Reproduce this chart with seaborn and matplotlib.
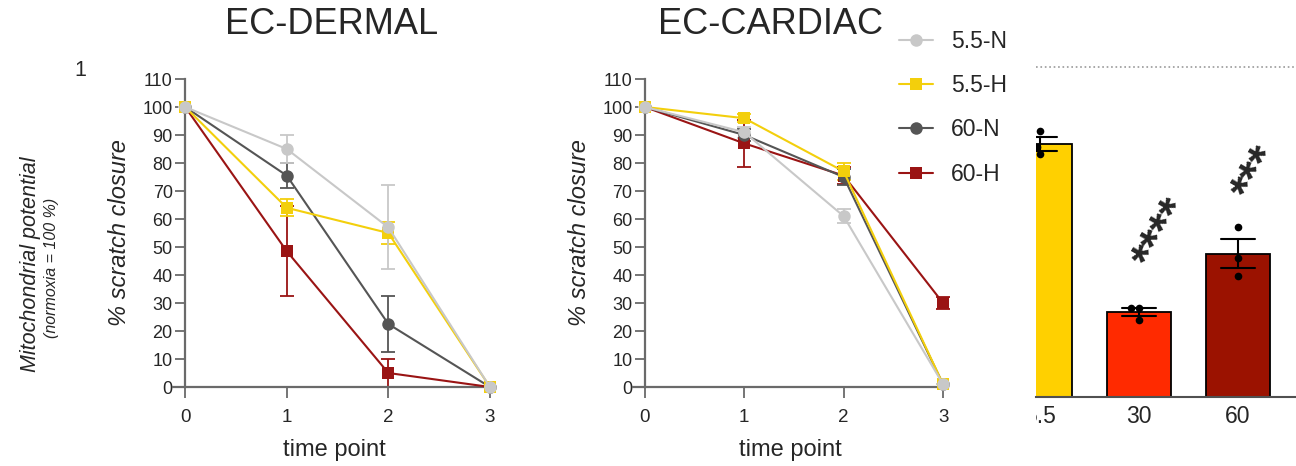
import numpy as np
import pandas as pd
import matplotlib
matplotlib.use("Agg")
import matplotlib.pyplot as plt
import seaborn as sns
from matplotlib.transforms import Bbox, TransformedBbox

# --- datos: % de cierre de la herida por punto de tiempo ---
tiempos = [0, 1, 2, 3]
grupos = ["5.5-N", "5.5-H", "60-N", "60-H"]

dermal_55N = [100, 85, 57, 0]
dermal_55H = [100, 64, 55, 0]
dermal_60N = [100, 75.5, 22.5, 0]
dermal_60H = [100, 48.5, 5, 0]
dermal_err_55N = [0, 5, 15, 0]
dermal_err_55H = [0, 3, 4, 0]
dermal_err_60N = [0, 4.5, 10, 0]
dermal_err_60H = [0, 16, 5, 0]

cardiac_55N = [100, 91, 61, 1]
cardiac_55H = [100, 96, 77, 1]
cardiac_60N = [100, 90, 75, 1]
cardiac_60H = [100, 87, 75.5, 30]
cardiac_err_55N = [0, 2, 2.5, 0]
cardiac_err_55H = [0, 1.5, 3, 0]
cardiac_err_60N = [0, 2, 3, 0]
cardiac_err_60H = [0, 8.5, 3, 2]

# --- barras (potencial mitocondrial, recortado a la derecha) ---
barras_cat = ["5.5", "30", "60"]
barras_puntos = {
    "5.5": [80.6, 75.8, 73.7],
    "30": [27.0, 27.0, 23.3],
    "60": [51.5, 42.0, 36.7],
}
barras_estrellas = {"30": "****", "60": "***"}

colores = {"5.5-N": "#C8C8C8", "5.5-H": "#F3CF0C", "60-N": "#555555", "60-H": "#9A1414"}
marcadores = {"5.5-N": "o", "5.5-H": "s", "60-N": "o", "60-H": "s"}
colores_barras = ["#FFD000", "#FF2A00", "#9B1200"]

sns.set_theme(style="white")
plt.rcParams["font.family"] = ["Liberation Sans", "DejaVu Sans"]
GRIS = "#6A6A6A"


def armar_df(vals, errs):
    filas = []
    for g, v, e in zip(grupos, vals, errs):
        for t, y, s in zip(tiempos, v, e):
            filas.append({"tiempo": t, "cierre": y, "err": s, "grupo": g})
    return pd.DataFrame(filas)


df_dermal = armar_df([dermal_55N, dermal_55H, dermal_60N, dermal_60H],
                     [dermal_err_55N, dermal_err_55H, dermal_err_60N, dermal_err_60H])
df_cardiac = armar_df([cardiac_55N, cardiac_55H, cardiac_60N, cardiac_60H],
                      [cardiac_err_55N, cardiac_err_55H, cardiac_err_60N, cardiac_err_60H])

W, H = 1296, 466
fig = plt.figure(figsize=(W / 100, H / 100), dpi=100)


def px_ax(x0, y0, x1, y1):
    # rectangulo en pixeles (origen arriba-izquierda) -> coords de figura
    return fig.add_axes([x0 / W, 1 - y1 / H, (x1 - x0) / W, (y1 - y0) / H])


ax1 = px_ax(173, 79, 495, 387)
ax2 = px_ax(633, 79, 948, 387)

for ax, df in [(ax1, df_dermal), (ax2, df_cardiac)]:
    orden = ["60-H", "60-N", "5.5-H", "5.5-N"]
    for g in orden:
        d = df[df["grupo"] == g]
        ax.errorbar(d["tiempo"], d["cierre"], yerr=d["err"], fmt="none",
                    ecolor=colores[g], elinewidth=1.3, capsize=5, capthick=1.3,
                    clip_on=False, zorder=2)
    sns.lineplot(data=df, x="tiempo", y="cierre", hue="grupo", style="grupo",
                 hue_order=orden, style_order=orden, palette=colores,
                 markers=marcadores, dashes=False, markersize=9, linewidth=1.5,
                 markeredgewidth=0, ax=ax, clip_on=False, zorder=3)
    ax.set_xlim(-0.12, 3.05)
    ax.set_ylim(0, 110)
    ax.set_xticks(tiempos)
    ax.set_yticks(np.arange(0, 111, 10))
    ax.spines["left"].set_position(("data", 0))
    ax.spines["top"].set_visible(False)
    ax.spines["right"].set_visible(False)
    for s in ["left", "bottom"]:
        ax.spines[s].set_color(GRIS)
        ax.spines[s].set_linewidth(1.6)
    ax.tick_params(axis="y", direction="out", length=7, width=1.3, color=GRIS,
                   labelsize=13, pad=2, left=True)
    ax.tick_params(axis="x", direction="out", length=8, width=1.3, color=GRIS,
                   labelsize=13.5, pad=8, bottom=True)
    ax.set_ylabel("% scratch closure", fontsize=17, style="italic", labelpad=8)
    ax.set_xlabel("time point", fontsize=17, labelpad=9)
    ax.get_legend().remove()

fig.text(332 / W, 1 - 24 / H, "EC-DERMAL", fontsize=26, ha="center", va="center")
fig.text(771 / W, 1 - 24 / H, "EC-CARDIAC", fontsize=26, ha="center", va="center")

# leyenda con los handles del panel cardiaco
handles, labels = ax2.get_legend_handles_labels()
orden_ley = [labels.index(g) for g in grupos]
leg = fig.legend([handles[i] for i in orden_ley], [labels[i] for i in orden_ley],
                 loc="upper left", bbox_to_anchor=(889 / W, 1 - 20 / H),
                 fontsize=16.5, frameon=True, facecolor="white", edgecolor="none",
                 framealpha=1, borderpad=0.45, labelspacing=0.92,
                 handlelength=1.45, handletextpad=0.8, borderaxespad=0)
leg.set_zorder(10)

# etiquetas del panel de barras recortado
fig.text(31 / W, 1 - 264 / H, "Mitochondrial potential", fontsize=15.5,
         style="italic", rotation=90, ha="center", va="center")
fig.text(52 / W, 1 - 268 / H, "(normoxia = 100 %)", fontsize=11.5,
         style="italic", rotation=90, ha="center", va="center")
fig.text(80 / W, 1 - 70 / H, "1", fontsize=15.5, ha="center", va="center")

# panel de barras
ax3 = px_ax(1036, 34, 1296, 397)
filas = [{"cat": c, "valor": v} for c in barras_cat for v in barras_puntos[c]]
df_bar = pd.DataFrame(filas)
sns.barplot(data=df_bar, x="cat", y="valor", order=barras_cat, hue="cat",
            palette=colores_barras, saturation=1, errorbar="se", capsize=0.35,
            width=0.65, edgecolor="black", linewidth=1.3,
            err_kws={"color": "black", "linewidth": 1.5}, legend=False, ax=ax3)
sns.swarmplot(data=df_bar, x="cat", y="valor", order=barras_cat, color="black",
              size=5.5, ax=ax3)
ax3.axhline(100, color="#9A9A9A", linestyle=":", linewidth=1.2)
for i, c in enumerate(barras_cat):
    if c in barras_estrellas:
        pts = np.array(barras_puntos[c])
        tope = pts.mean() + pts.std(ddof=1) / np.sqrt(len(pts))
        ax3.text(i + 0.06, tope + 12.5, barras_estrellas[c], rotation=60, fontsize=34,
                 fontweight="bold", ha="left", va="center", rotation_mode="anchor")
ax3.set_xlim(-0.04, 2.586)
ax3.set_ylim(0, 110)
ax3.set_yticks([])
ax3.set_xlabel("")
ax3.set_ylabel("")
for s in ["left", "top", "right"]:
    ax3.spines[s].set_visible(False)
ax3.spines["bottom"].set_color("#505050")
ax3.spines["bottom"].set_linewidth(1.5)
ax3.tick_params(axis="x", length=0, labelsize=16.5, pad=6)
clip = TransformedBbox(Bbox([[1036 / W, 0], [1, 1]]), fig.transFigure)
for lbl in ax3.get_xticklabels():
    lbl.set_clip_box(clip)
    lbl.set_clip_on(True)

fig.savefig("out.png", dpi=100)
